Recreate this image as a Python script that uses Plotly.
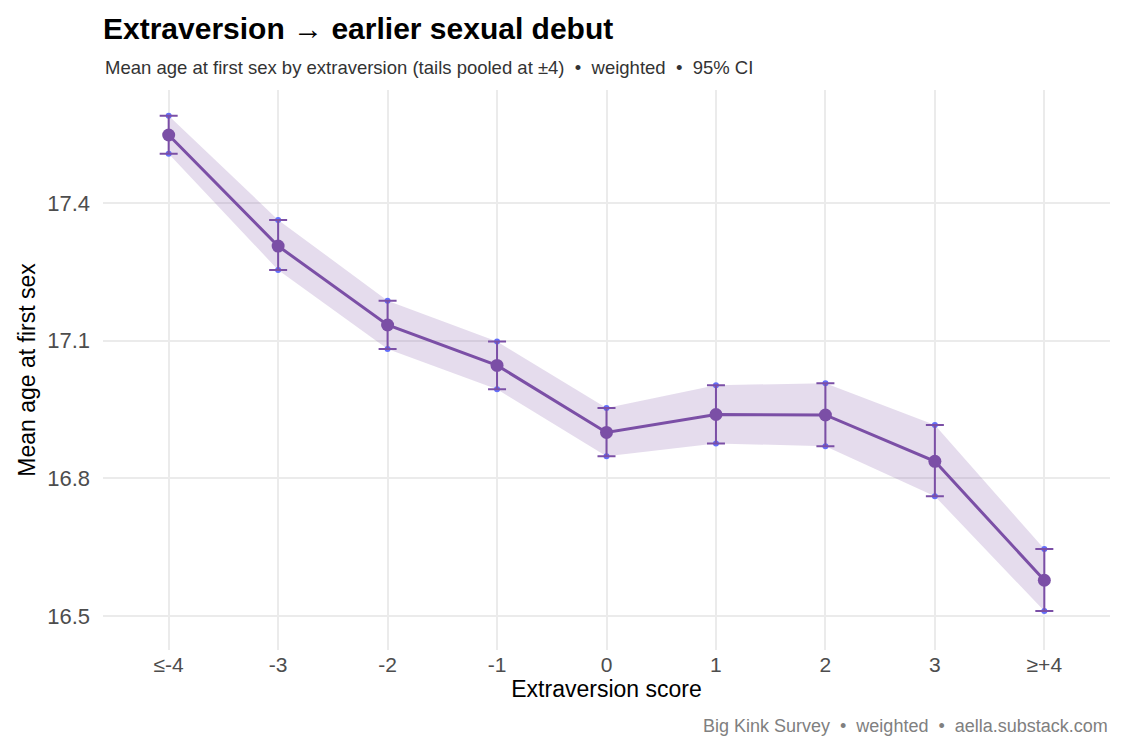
import plotly.graph_objects as go

categories = ["≤-4", "-3", "-2", "-1", "0", "1", "2", "3", "≥+4"]
means = [17.548, 17.306, 17.134, 17.046, 16.900, 16.939, 16.938, 16.837, 16.578]
ci_low = [17.507, 17.254, 17.082, 16.994, 16.848, 16.876, 16.870, 16.761, 16.511]
ci_high = [17.590, 17.363, 17.187, 17.098, 16.953, 17.003, 17.007, 16.916, 16.646]

xs = list(range(len(categories)))
purple = "#7B4FA6"
font = "Liberation Sans, Arial, sans-serif"

fig = go.Figure()
fig.add_trace(go.Scatter(x=xs + xs[::-1], y=ci_high + ci_low[::-1], fill="toself",
                         fillcolor="rgba(123,79,166,0.2)", line=dict(width=0),
                         hoverinfo="skip", showlegend=False))
fig.add_trace(go.Scatter(
    x=xs, y=means, mode="lines+markers",
    line=dict(color=purple, width=3),
    marker=dict(color=purple, size=13),
    error_y=dict(type="data", symmetric=False,
                 array=[h - m for h, m in zip(ci_high, means)],
                 arrayminus=[m - l for m, l in zip(means, ci_low)],
                 color=purple, thickness=2, width=9),
    showlegend=False))

fig.update_layout(
    width=1125, height=750,
    margin=dict(l=103, r=15, t=90, b=100),
    paper_bgcolor="white", plot_bgcolor="white",
    font=dict(family=font),
    title=dict(text="<b>Extraversion → earlier sexual debut</b>", x=103/1125, xanchor="left",
               xref="container", y=1 - 28/750, yanchor="middle",
               font=dict(size=30, color="black")),
    xaxis=dict(tickmode="array", tickvals=xs, ticktext=categories, range=[-0.6, 8.6],
               showgrid=True, gridcolor="#EBEBEB", gridwidth=2, zeroline=False,
               showline=False, ticks="", tickfont=dict(size=21, color="#4D4D4D"),
               title=dict(text="Extraversion score", font=dict(size=23, color="black"), standoff=4)),
    yaxis=dict(range=[16.426, 17.646], tickvals=[16.5, 16.8, 17.1, 17.4],
               ticktext=["16.5", "16.8", "17.1", "17.4"],
               showgrid=True, gridcolor="#EBEBEB", gridwidth=2, zeroline=False,
               showline=False, ticks="", ticklabelstandoff=12, tickfont=dict(size=22, color="#4D4D4D"),
               title=dict(text="Mean age at first sex", font=dict(size=23, color="black"), standoff=5)),
    annotations=[
        dict(text="Mean age at first sex by extraversion (tails pooled at ±4)  •  weighted  •  95% CI",
             xref="paper", yref="paper", x=0, y=1 + 22/560, xanchor="left", yanchor="middle",
             showarrow=False, font=dict(size=18.5, color="#333333")),
        dict(text="Big Kink Survey  •  weighted  •  aella.substack.com",
             xref="paper", yref="paper", x=1, y=-(726-650)/560, xanchor="right", yanchor="middle",
             showarrow=False, font=dict(size=18, color="#808080")),
    ],
)
fig.write_html("out.html")
